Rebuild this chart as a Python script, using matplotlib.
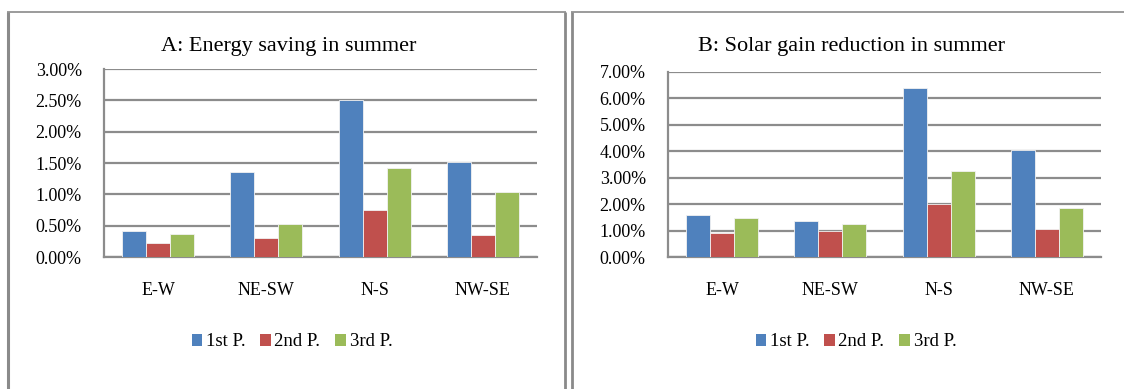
import numpy as np
import matplotlib
matplotlib.use("Agg")
import matplotlib.pyplot as plt
from matplotlib.patches import Patch
from matplotlib.lines import Line2D
from matplotlib.ticker import FuncFormatter, MultipleLocator

plt.rcParams["font.family"] = ["Liberation Serif", "DejaVu Serif"]

orientations = ["E-W", "NE-SW", "N-S", "NW-SE"]
series_names = ["1st P.", "2nd P.", "3rd P."]

# percent values per orientation
energy_1st = [0.42, 1.36, 2.51, 1.51]
energy_2nd = [0.22, 0.30, 0.75, 0.35]
energy_3rd = [0.36, 0.53, 1.42, 1.04]

solar_1st = [1.58, 1.36, 6.41, 4.05]
solar_2nd = [0.92, 0.99, 2.02, 1.06]
solar_3rd = [1.49, 1.26, 3.26, 1.84]

colors = ["#4F81BD", "#C0504D", "#9BBB59"]
grid_gray = "#8C8C8C"
frame_gray = "#8A8A8A"

W, H = 1124, 389
fig = plt.figure(figsize=(W / 100, H / 100), dpi=100)


def px_rect(x0, y_top, x1, y_bot):
    return [x0 / W, 1 - y_bot / H, (x1 - x0) / W, (y_bot - y_top) / H]


def draw_panel(ax, series, ymax, title, title_x, legend_x):
    x = np.arange(len(orientations))
    width = 1 / 4.5
    for i, (vals, c) in enumerate(zip(series, colors)):
        ax.bar(x + (i - 1) * width, vals, width, color=c, edgecolor="#f2f2f2",
               linewidth=0.6, zorder=3)
    ax.set_xlim(-0.5, len(orientations) - 0.5)
    ax.set_ylim(0, ymax)
    ax.yaxis.set_major_locator(MultipleLocator(0.5 if ymax < 5 else 1.0))
    ax.yaxis.set_major_formatter(FuncFormatter(lambda v, p: f"{v:.2f}%"))
    ax.set_xticks(x)
    ax.set_xticklabels(orientations)
    ax.grid(axis="y", color=grid_gray, linewidth=1.6, zorder=0)
    ax.set_axisbelow(True)
    for s in ["top", "right"]:
        ax.spines[s].set_visible(False)
    for s in ["left", "bottom"]:
        ax.spines[s].set_color(grid_gray)
        ax.spines[s].set_linewidth(1.6)
    ax.tick_params(axis="both", length=0, labelsize=13, colors="black")
    ax.tick_params(axis="y", pad=16)
    ax.tick_params(axis="x", pad=18)
    fig.text(title_x / W, 1 - 47 / H, title, ha="center", va="center", fontsize=16)
    handles = [Patch(facecolor=c, edgecolor="none") for c in colors]
    fig.legend(handles, series_names, loc="center", bbox_to_anchor=(legend_x / W, 1 - 342 / H),
               ncol=3, frameon=False, fontsize=13.5, handlelength=0.55, handleheight=0.55,
               handletextpad=0.2, columnspacing=0.8, borderpad=0, borderaxespad=0)


ax_a = fig.add_axes(px_rect(104, 69, 537, 257))
draw_panel(ax_a, [energy_1st, energy_2nd, energy_3rd], 3.0,
           "A: Energy saving in summer", 289, 292)

ax_b = fig.add_axes(px_rect(668, 72, 1101, 257))
draw_panel(ax_b, [solar_1st, solar_2nd, solar_3rd], 7.0,
           "B: Solar gain reduction in summer", 851, 856)

# panel frames
def fline(xs, ys, lw):
    fig.add_artist(Line2D([v / W for v in xs], [1 - v / H for v in ys],
                          color=frame_gray, linewidth=lw, solid_capstyle="butt"))

fline([8, 8], [12, H], 2.2)
fline([7, 566], [12, 12], 1.2)
fline([565, 565], [11.5, H], 2.0)
fline([572, 572], [12, H], 2.0)
fline([571, W], [12, 12], 1.2)

fig.savefig("out.png", dpi=100, facecolor="white")
